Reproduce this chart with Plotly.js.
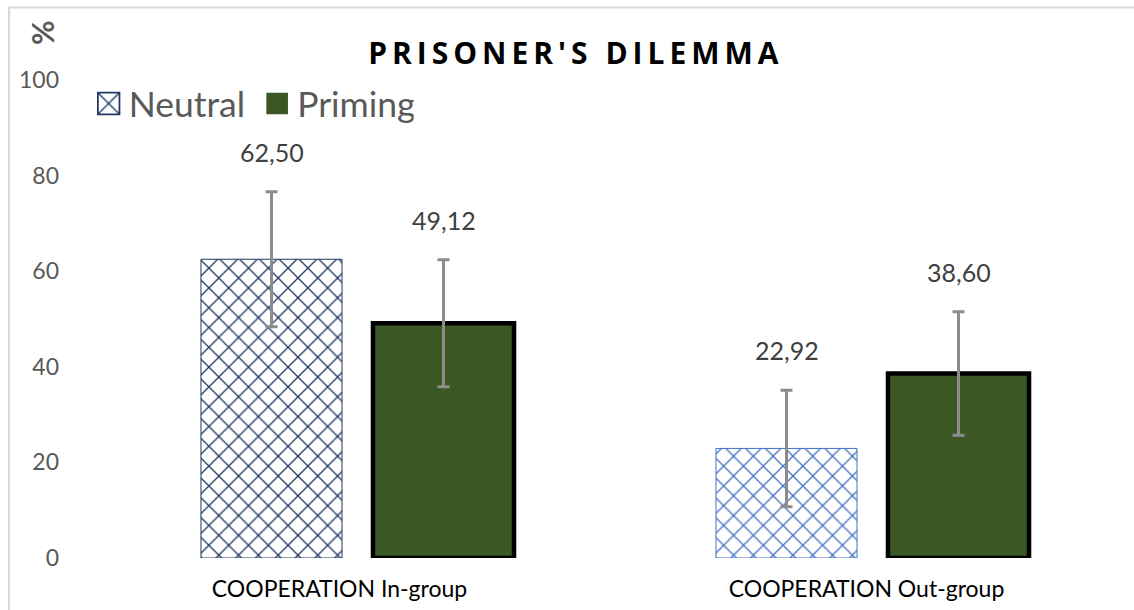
<!DOCTYPE html>
<html>
<head>
<meta charset="utf-8">
<script src="https://cdn.plot.ly/plotly-3.0.1.min.js"></script>
<style>
html, body { margin: 0; padding: 0; background: #fff; }
#chart { width: 1134px; height: 610px; }
.gtitle { letter-spacing: 5px; }
.legend .legendpoints path { transform: translate(20px, 0px) scale(1.8); }
.legend .traces:nth-of-type(2) .legendpoints path { stroke: none !important; }
.legend .traces:nth-of-type(2) { translate: 7px 0px; }
.xaxislayer-above .xtick:nth-of-type(1) { translate: -18px 0px; }
.xaxislayer-above .xtick:nth-of-type(2) { translate: -6px 0px; }
</style>
</head>
<body>
<div id="chart"></div>
<script>
// ---- data ----
const categories = ["COOPERATION In-group", "COOPERATION Out-group"];
const neutralValues = [62.50, 22.92];
const primingValues = [49.12, 38.60];
const neutralErrors = [14.1, 12.2];
const primingErrors = [13.3, 12.9];
const yTicks = [0, 20, 40, 60, 80, 100];
const seriesNames = ["Neutral", "Priming"];
const chartTitle = "PRISONER'S DILEMMA";
const yLabel = "%";

const fmt = v => v.toFixed(2).replace(".", ",");

const neutral = {
  type: "bar",
  name: seriesNames[0],
  x: categories,
  y: neutralValues,
  marker: {
    color: "#ffffff",
    line: { color: ["#1F3864", "#4472C4"], width: 1 },
    pattern: { shape: "x", fgcolor: ["#1F3864", "#4472C4"], bgcolor: "#ffffff", size: 14, solidity: 0.18 }
  },
  error_y: { type: "data", array: neutralErrors, visible: true, color: "#8C8C8C", thickness: 3, width: 6 },
  hoverinfo: "skip"
};
const priming = {
  type: "bar",
  name: seriesNames[1],
  x: categories,
  y: primingValues,
  marker: { color: "#3A5724", line: { color: "#000000", width: 4.5 } },
  error_y: { type: "data", array: primingErrors, visible: true, color: "#8C8C8C", thickness: 3, width: 6 },
  hoverinfo: "skip"
};

const annotations = [];
function addLabels(values, errs, shift) {
  values.forEach((v, i) => {
    annotations.push({
      x: categories[i], y: v + errs[i] + 8.3, xref: "x", yref: "y",
      xshift: shift, text: fmt(v), showarrow: false,
      font: { family: "Lato, sans-serif", size: 25, color: "#404040" }
    });
  });
}
addLabels(neutralValues, neutralErrors, -86);
addLabels(primingValues, primingErrors, 86);

annotations.push({
  xref: "paper", yref: "paper", x: -0.0565, y: 1.100, xanchor: "center", yanchor: "middle",
  text: "<b>" + yLabel + "</b>", textangle: -90, showarrow: false,
  font: { family: "Lato, sans-serif", size: 30, color: "#595959" }
});

const layout = {
  width: 1134, height: 610,
  margin: { l: 100, r: 4, t: 80, b: 52 },
  paper_bgcolor: "#ffffff", plot_bgcolor: "#ffffff",
  title: {
    text: "<b>" + chartTitle + "</b>",
    x: 0.462, xref: "paper", y: 0.913, yref: "container", xanchor: "center", yanchor: "middle",
    font: { family: "Open Sans, sans-serif", size: 30, color: "#000000" }
  },
  barmode: "group", bargap: 0.332, bargroupgap: 0.18,
  showlegend: true,
  legend: {
    orientation: "h", x: -0.011, y: 0.95, xanchor: "left", yanchor: "middle",
    font: { family: "Lato, sans-serif", size: 35.5, color: "#595959" },
    bgcolor: "rgba(0,0,0,0)", itemwidth: 30, tracegroupgap: 0
  },
  xaxis: {
    type: "category", showline: false, showgrid: false, zeroline: false, ticks: "",
    tickfont: { family: "Lato, sans-serif", size: 23, color: "#000000" },
    ticklabelstandoff: 15, fixedrange: true
  },
  yaxis: {
    range: [0, 100], tickvals: yTicks, showline: false, showgrid: false, zeroline: false, ticks: "",
    tickfont: { family: "Lato, sans-serif", size: 23, color: "#595959" },
    ticklabelstandoff: 40, fixedrange: true
  },
  shapes: [{
    type: "rect", xref: "paper", yref: "paper", x0: -0.0883, x1: 1.2, y0: -0.3, y1: 1.1517,
    line: { color: "#D9D9D9", width: 2 }, fillcolor: "rgba(0,0,0,0)", layer: "below"
  }],
  annotations: annotations
};

Plotly.newPlot("chart", [neutral, priming], layout, { displayModeBar: false, staticPlot: true });
</script>
</body>
</html>
